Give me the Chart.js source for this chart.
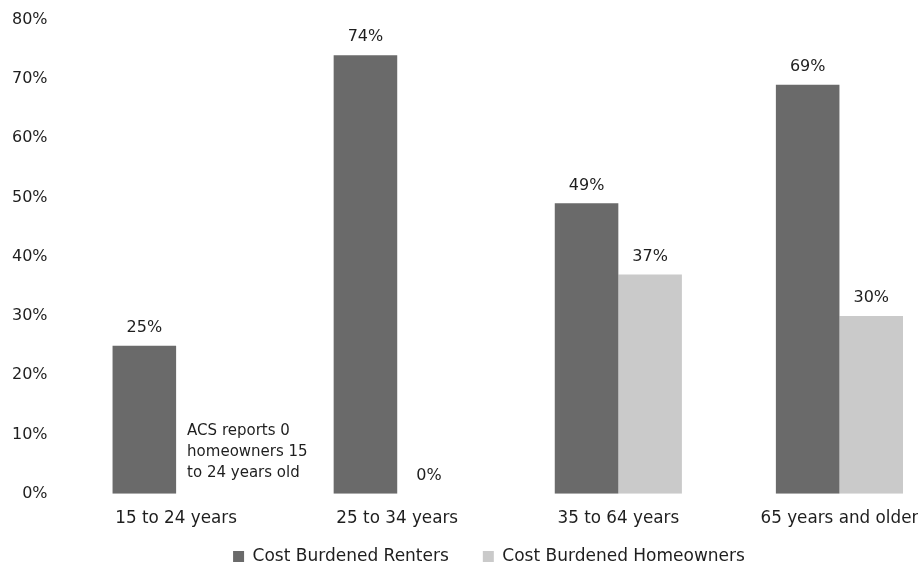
<!DOCTYPE html>
<html>
<head>
<script src="https://cdn.jsdelivr.net/npm/chart.js@4"></script>
<style>
  html, body { margin: 0; padding: 0; background: #fff; overflow: hidden; }
  #wrap { width: 948px; height: 597px; margin-left: 2px; position: relative; }
</style>
</head>
<body>
<div id="wrap"><canvas id="chart"></canvas></div>
<script>
// age groups and the share of each that is cost burdened
var ageGroups = ['15 to 24 years', '25 to 34 years', '35 to 64 years', '65 years and older'];
var renters = [25, 74, 49, 69];
var homeowners = [null, 0, 37, 30];
var seriesNames = ['Cost Burdened Renters', 'Cost Burdened Homeowners'];
var yTicks = [0, 10, 20, 30, 40, 50, 60, 70, 80];
var noteLines = ['ACS reports 0', 'homeowners 15', 'to 24 years old'];

var FONT = 'DejaVu Sans';
var INK = '#1e1e1e';

Chart.defaults.font.family = FONT;
Chart.defaults.font.size = 16;
Chart.defaults.color = INK;

// percent labels over every bar, plus the note in the empty slot
var barLabels = {
  id: 'barLabels',
  afterDatasetsDraw: function(chart) {
    var ctx = chart.ctx;
    ctx.save();
    ctx.font = '16px "' + FONT + '"';
    ctx.fillStyle = INK;
    ctx.textAlign = 'center';
    ctx.textBaseline = 'middle';
    chart.data.datasets.forEach(function(ds, di) {
      var meta = chart.getDatasetMeta(di);
      meta.data.forEach(function(bar, i) {
        var v = ds.data[i];
        if (v === null) return;
        ctx.fillText(v + '%', bar.x, bar.y - 18);
      });
    });

    var x = chart.scales.x.getPixelForValue(0) + 11;
    var y = chart.scales.y;
    ctx.textAlign = 'left';
    ctx.font = '15px "' + FONT + '"';
    noteLines.forEach(function(line, k) {
      ctx.fillText(line, x, y.getPixelForValue(10.6) + k * 21);
    });
    ctx.restore();
  }
};

// pull the legend up under the axis labels and a little to the right
var legendShift = {
  id: 'legendShift',
  afterLayout: function(chart) {
    var lg = chart.legend;
    lg.left += 13;
    lg.right += 13;
    lg.top -= 22;
    lg.bottom -= 22;
  }
};

new Chart(document.getElementById('chart'), {
  type: 'bar',
  data: {
    labels: ageGroups,
    datasets: [
      { label: seriesNames[0], data: renters, backgroundColor: '#6a6a6a' },
      { label: seriesNames[1], data: homeowners, backgroundColor: '#cacaca' }
    ]
  },
  options: {
    responsive: true,
    maintainAspectRatio: false,
    animation: false,
    layout: { padding: { top: 0, left: 0, right: 0, bottom: 0 } },
    datasets: { bar: { categoryPercentage: 0.575, barPercentage: 1 } },
    plugins: {
      legend: {
        position: 'bottom',
        labels: { boxWidth: 11, boxHeight: 11, padding: 34, font: { size: 17 } }
      },
      tooltip: { enabled: false }
    },
    scales: {
      x: {
        grid: { display: false },
        border: { display: false },
        ticks: { padding: 7, font: { size: 16.8 }, maxRotation: 0 }
      },
      y: {
        min: 0,
        max: 80,
        afterBuildTicks: function(axis) {
          axis.ticks = yTicks.map(function(v) { return { value: v }; });
        },
        grid: { display: false },
        border: { display: false },
        ticks: {
          padding: 10,
          font: { size: 16 },
          callback: function(v) { return v + '%'; }
        }
      }
    }
  },
  plugins: [barLabels, legendShift]
});
</script>
</body>
</html>
